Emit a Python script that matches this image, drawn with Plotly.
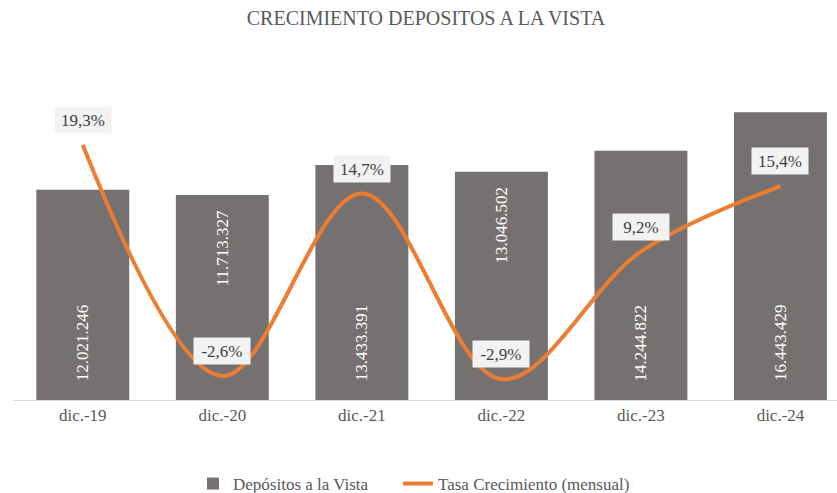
import plotly.graph_objects as go

categories = ["dic.-19", "dic.-20", "dic.-21", "dic.-22", "dic.-23", "dic.-24"]
depositos = [12021246, 11713327, 13433391, 13046502, 14244822, 16443429]
depositos_labels = ["12.021.246", "11.713.327", "13.433.391", "13.046.502", "14.244.822", "16.443.429"]
tasa = [19.3, -2.6, 14.7, -2.9, 9.2, 15.4]
tasa_labels = ["19,3%", "-2,6%", "14,7%", "-2,9%", "9,2%", "15,4%"]
label_at_top = [False, True, False, True, False, False]

FONT = "Liberation Serif"
BAR_COLOR = "#767171"
LINE_COLOR = "#ED7D31"

fig = go.Figure()
fig.add_trace(go.Bar(
    x=categories, y=depositos, name="Depósitos a la Vista",
    marker=dict(color=BAR_COLOR, line=dict(width=0)),
    hoverinfo="x+y", legend="legend",
))
fig.add_trace(go.Scatter(
    x=categories, y=tasa, name="Tasa Crecimiento (mensual)", yaxis="y2",
    mode="lines", line=dict(color=LINE_COLOR, width=4, shape="spline", smoothing=1.0),
    legend="legend2",
))

annotations = []
for cat, val, lab, top in zip(categories, depositos, depositos_labels, label_at_top):
    if top:
        annotations.append(dict(x=cat, y=val, xref="x", yref="y", text=lab, textangle=-90,
                                showarrow=False, yanchor="top", yshift=-13,
                                font=dict(family=FONT, size=17, color="white")))
    else:
        annotations.append(dict(x=cat, y=0, xref="x", yref="y", text=lab, textangle=-90,
                                showarrow=False, yanchor="bottom", yshift=17,
                                font=dict(family=FONT, size=17, color="white")))

for cat, val, lab in zip(categories, tasa, tasa_labels):
    annotations.append(dict(x=cat, y=val, xref="x", yref="y2", text=lab, showarrow=False,
                            yanchor="middle", yshift=25, bgcolor="#F2F2F2", borderpad=3,
                            width=50, height=20,
                            font=dict(family=FONT, size=17, color="#404040")))

legend_common = dict(orientation="h", xref="container", yref="container",
                     xanchor="left", y=1 - 484 / 493, yanchor="middle",
                     font=dict(family=FONT, size=17, color="#595959"),
                     bgcolor="rgba(0,0,0,0)")

fig.update_layout(
    width=837, height=493,
    margin=dict(l=13, r=0, t=60, b=93, autoexpand=False),
    paper_bgcolor="white", plot_bgcolor="white",
    font=dict(family=FONT),
    title=dict(text="CRECIMIENTO DEPOSITOS A LA VISTA", x=426 / 837, xanchor="center",
               xref="container", y=1 - 18 / 493, yanchor="middle", yref="container",
               font=dict(family=FONT, size=20, color="#595959")),
    bargap=0.334,
    xaxis=dict(range=[-0.5, 5.405], showline=True, linecolor="#D9D9D9", linewidth=1,
               ticks="", showgrid=False, zeroline=False,
               tickfont=dict(family=FONT, size=17, color="#595959")),
    yaxis=dict(range=[0, 19.43e6], visible=False, showgrid=False, zeroline=False),
    yaxis2=dict(range=[-4.87, 27.36], overlaying="y", side="right", visible=False,
                showgrid=False, zeroline=False),
    legend=dict(x=193 / 837, **legend_common),
    legend2=dict(x=398 / 837, **legend_common),
    annotations=annotations,
    showlegend=True,
)

fig.write_html("out.html", config={"displayModeBar": False},
               post_script="document.body.style.margin='0';")
